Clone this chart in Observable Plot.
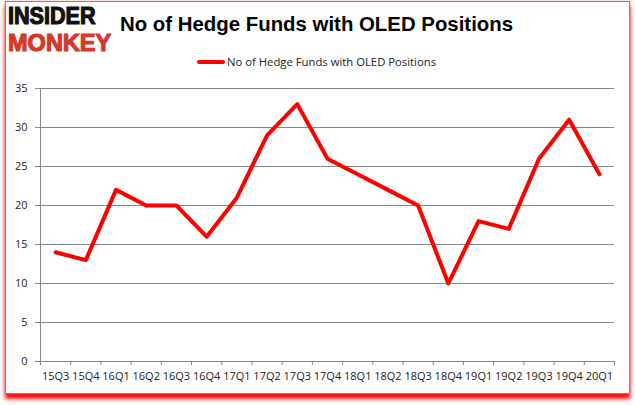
<!DOCTYPE html>
<html><head><meta charset="utf-8">
<script src="https://cdn.jsdelivr.net/npm/d3@7"></script>
<script src="https://cdn.jsdelivr.net/npm/@observablehq/plot@0.6"></script>
<style>
body{margin:0;background:#fff;}
#wrap{position:relative;width:635px;height:405px;overflow:hidden;font-family:"Open Sans",sans-serif;background:#fff;}
#frame{position:absolute;left:5px;top:1px;width:623px;height:391px;border:1px solid #888;box-shadow:0 5px 4px rgba(255,0,0,0.95),1px 0 3px rgba(255,140,140,0.35),-1px 0 3px rgba(255,140,140,0.35);background:#fff;}
#logo1,#logo2{position:absolute;left:8px;font-family:"Liberation Sans",sans-serif;font-weight:bold;font-size:24px;line-height:normal;transform-origin:0 0;white-space:nowrap;-webkit-text-stroke:1.2px currentColor;}
#logo1{top:1.5px;color:#111;transform:scale(0.9,1);}
#logo2{top:28.5px;color:#d4392b;transform:scale(0.98,1);}
#title{position:absolute;left:120px;top:13px;font-family:"Liberation Sans",sans-serif;font-weight:bold;font-size:20.4px;color:#000;white-space:nowrap;}
#legend{position:absolute;left:197px;top:54px;font-family:"Open Sans",sans-serif;font-size:11.3px;color:#222;white-space:nowrap;display:flex;align-items:center;}
#legend .sw{display:inline-block;width:28px;height:4px;background:#ff0000;border-radius:2px;margin-right:2px;}
#chart{position:absolute;left:0;top:80px;}
</style></head>
<body>
<div id="wrap">
  <div id="frame"></div>
  <div id="logo1">INSIDER</div>
  <div id="logo2">MONKEY</div>
  <div id="title">No of Hedge Funds with OLED Positions</div>
  <div id="legend"><span class="sw"></span><span>No of Hedge Funds with OLED Positions</span></div>
  <div id="chart"></div>
</div>
<script>
const quarters = ["15Q3","15Q4","16Q1","16Q2","16Q3","16Q4","17Q1","17Q2","17Q3","17Q4","18Q1","18Q2","18Q3","18Q4","19Q1","19Q2","19Q3","19Q4","20Q1"];
const funds = [14,13,22,20,20,16,21,29,33,26,24,22,20,10,18,17,26,31,24];
const yTicks = [0,5,10,15,20,25,30,35];

const data = quarters.map((q, i) => ({i, q, v: funds[i]}));
const xMin = -0.5, xMax = quarters.length - 0.5;
const bounds = d3.range(xMin, xMax + 0.01, 1);

const chart = Plot.plot({
  width: 635, height: 325,
  marginTop: 8, marginBottom: 44, marginLeft: 40, marginRight: 21,
  style: {background: "transparent", fontFamily: "'Open Sans', sans-serif", fontSize: "11px", color: "#222", overflow: "visible"},
  x: {type: "linear", domain: [xMin, xMax]},
  y: {domain: [0, 35]},
  marks: [
    Plot.gridY(yTicks.filter(d => d > 0), {stroke: "#888", strokeOpacity: 1}),
    Plot.ruleX([xMin], {stroke: "#888"}),
    Plot.ruleY([0], {stroke: "#888"}),
    Plot.axisY({ticks: yTicks, tickSize: 5, tickPadding: 8, label: null, stroke: "#888", fill: "#222"}),
    Plot.axisX({ticks: bounds, tickFormat: () => "", tickSize: 4, label: null, stroke: "#888"}),
    Plot.axisX({ticks: d3.range(quarters.length), tickFormat: i => quarters[i], tickSize: 0, tickPadding: 11, label: null, fill: "#222"}),
    Plot.line(data, {x: "i", y: "v", stroke: "#ff0000", strokeWidth: 4})
  ]
});
document.getElementById("chart").appendChild(chart);
</script>
</body></html>
